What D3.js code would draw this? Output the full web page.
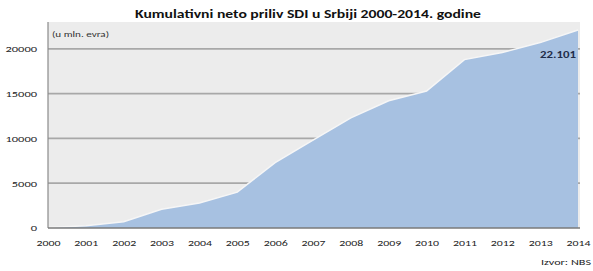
<!DOCTYPE html>
<html><head><meta charset="utf-8">
<script src="https://cdn.jsdelivr.net/npm/d3@7"></script>
<style>body{margin:0;background:#fff}svg{display:block}</style>
</head><body><svg id="c" width="593" height="271"></svg>
<script>
const years = [2000,2001,2002,2003,2004,2005,2006,2007,2008,2009,2010,2011,2012,2013,2014];
const values = [50,250,700,2100,2800,4000,7300,9800,12300,14200,15300,18800,19600,20700,22101];
const yTicks = [0,5000,10000,15000,20000];
const title = "Kumulativni neto priliv SDI u Srbiji 2000-2014. godine";
const unitLabel = "(u mln. evra)";
const lastLabel = "22.101";
const source = "Izvor: NBS";

const svg = d3.select("#c");
const L = 48, R = 578, T = 22, B = 228;
const x = d3.scaleLinear().domain([2000,2014]).range([L,R]);
const y = d3.scaleLinear().domain([0,23000]).range([B,T]);
const font = "Carlito, Calibri, 'Open Sans', sans-serif";

svg.append("rect").attr("x",L).attr("y",T).attr("width",R-L+2).attr("height",B-T).attr("fill","#ececec");

svg.append("g").selectAll("line").data(yTicks.filter(d=>d>0)).join("line")
  .attr("x1",L).attr("x2",R+2).attr("y1",d=>y(d)).attr("y2",d=>y(d))
  .attr("stroke","#a8a8a8").attr("stroke-width",1.8);

const area = d3.area().x((d,i)=>x(years[i])).y0(B).y1(d=>y(d));
svg.append("path").datum(values).attr("d",area).attr("fill","#a7c1e1");
const line = d3.line().x((d,i)=>x(years[i])).y(d=>y(d));
svg.append("path").datum(values).attr("d",line).attr("fill","none").attr("stroke","#f6f6f6").attr("stroke-width",1.5);

svg.append("line").attr("x1",L).attr("x2",L).attr("y1",T).attr("y2",B).attr("stroke","#8a8a8a").attr("stroke-width",1.2);
svg.append("line").attr("x1",L).attr("x2",R+2).attr("y1",B).attr("y2",B).attr("stroke","#7a7a7a").attr("stroke-width",1.6);

const stretch = sel => sel.attr("textLength", function(){ return this.textContent.length*6.3; }).attr("lengthAdjust","spacingAndGlyphs");

const yAxis = d3.axisLeft(y).tickValues(yTicks).tickSize(0).tickPadding(11).tickFormat(d3.format("d"));
const gy = svg.append("g").attr("transform",`translate(${L},0)`).call(yAxis);
gy.select(".domain").remove();
gy.selectAll("text").attr("font-family",font).attr("font-size",9).attr("fill","#222").call(stretch);

const xAxis = d3.axisBottom(x).tickValues(years).tickSize(0).tickPadding(12).tickFormat(d3.format("d"));
const gx = svg.append("g").attr("transform",`translate(0,${B})`).call(xAxis);
gx.select(".domain").remove();
gx.selectAll("text").attr("font-family",font).attr("font-size",9).attr("fill","#222")
  .attr("textLength",24).attr("lengthAdjust","spacingAndGlyphs");

svg.append("text").attr("x",308).attr("y",18).attr("text-anchor","middle")
  .attr("font-family",font).attr("font-weight","bold").attr("font-size",11.5).attr("fill","#111")
  .attr("textLength",346).attr("lengthAdjust","spacingAndGlyphs").text(title);
svg.append("text").attr("x",52).attr("y",37).attr("font-family",font).attr("font-size",7).attr("fill","#333")
  .attr("textLength",57).attr("lengthAdjust","spacingAndGlyphs").text(unitLabel);
svg.append("text").attr("x",576).attr("y",58).attr("text-anchor","end").attr("font-family",font).attr("font-weight","bold")
  .attr("font-size",9).attr("fill","#1f2d4a").attr("textLength",36).attr("lengthAdjust","spacingAndGlyphs").text(lastLabel);
svg.append("text").attr("x",591).attr("y",265).attr("text-anchor","end").attr("font-family",font)
  .attr("font-size",9).attr("fill","#222").attr("textLength",50).attr("lengthAdjust","spacingAndGlyphs").text(source);
</script></body></html>
